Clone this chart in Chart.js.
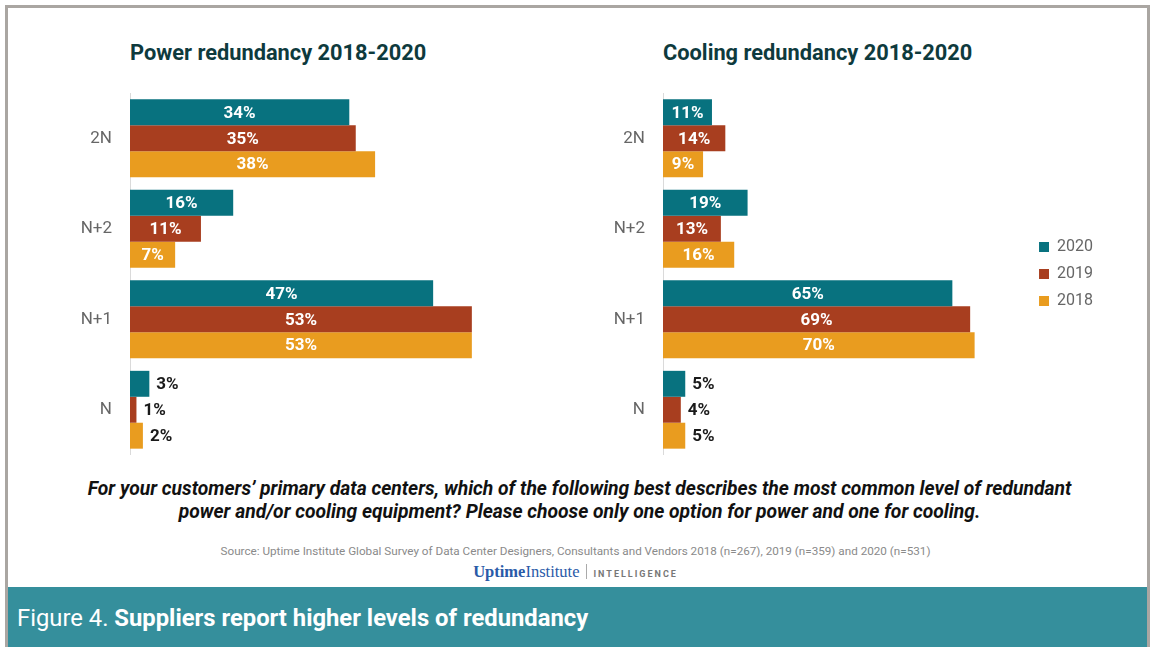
<!DOCTYPE html>
<html>
<head>
<meta charset="utf-8">
<script src="https://cdn.jsdelivr.net/npm/chart.js@4/dist/chart.umd.min.js"></script>
<style>
  body { margin: 0; width: 1151px; height: 647px; background: #fff; position: relative; overflow: hidden; font-family: Roboto, sans-serif; }
  .frame { position: absolute; left: 5px; top: 5px; width: 1145px; height: 660px; box-sizing: border-box; border: 3px solid #aaa6a2; }
  .title { position: absolute; top: 40px; font-weight: bold; font-size: 21.8px; color: #0e3a3d; white-space: nowrap; }
  .cv { position: absolute; }
  .question { position: absolute; left: 4px; width: 1151px; top: 477px; text-align: center; font-weight: bold; font-style: italic; font-size: 19.3px; line-height: 23px; color: #111; white-space: nowrap; }
  .source { position: absolute; left: 0; width: 1151px; top: 544px; text-align: center; font-size: 11.7px; color: #8a8a8a; }
  .logo { position: absolute; left: 0; width: 1151px; top: 562px; text-align: center; white-space: nowrap; }
  .logo .ui { font-family: "Liberation Serif", serif; font-size: 16.5px; color: #2a5aa8; }
  .logo .bar { display: inline-block; width: 1px; height: 15px; background: #aaa; vertical-align: -2px; margin: 0 6px 0 7px; }
  .logo .intel { font-size: 9px; font-weight: bold; letter-spacing: 2px; color: #777; }
  .footer { position: absolute; left: 8px; top: 587px; width: 1139px; height: 60px; background: #358f9c; }
  .footer span { position: absolute; left: 9px; top: 17px; font-size: 23.8px; color: #fff; white-space: nowrap; }
</style>
</head>
<body>
<div class="frame"></div>
<div class="title" style="left:130px">Power redundancy 2018-2020</div>
<div class="title" style="left:663px">Cooling redundancy 2018-2020</div>
<canvas id="power" class="cv" style="left:40px; top:93px" width="477" height="362"></canvas>
<canvas id="cooling" class="cv" style="left:573px; top:93px" width="530" height="362"></canvas>
<div class="question">For your customers’ primary data centers, which of the following best describes the most common level of redundant<br>power and/or cooling equipment? Please choose only one option for power and one for cooling.</div>
<div class="source">Source: Uptime Institute Global Survey of Data Center Designers, Consultants and Vendors 2018 (n=267), 2019 (n=359) and 2020 (n=531)</div>
<div class="logo"><span class="ui"><b>Uptime</b>Institute</span><span class="bar"></span><span class="intel">INTELLIGENCE</span></div>
<div class="footer"><span>Figure 4. <b>Suppliers report higher levels of redundancy</b></span></div>

<script>
const levels = ['2N', 'N+2', 'N+1', 'N'];
const years = ['2020', '2019', '2018'];
const yearColors = ['#08727f', '#a83e1f', '#e99c1f'];

// percent of respondents, one array per year
const power2020 = [34, 16, 47, 3];
const power2019 = [35, 11, 53, 1];
const power2018 = [38, 7, 53, 2];

const cooling2020 = [11, 19, 65, 5];
const cooling2019 = [14, 13, 69, 4];
const cooling2018 = [9, 16, 70, 5];

// white label inside the bar, or dark label just past the end when the bar is tiny
const valueLabels = {
  id: 'valueLabels',
  afterDatasetsDraw(chart) {
    const ctx = chart.ctx;
    ctx.save();
    ctx.font = 'bold 17px Roboto';
    ctx.textBaseline = 'middle';
    chart.data.datasets.forEach((ds, i) => {
      chart.getDatasetMeta(i).data.forEach((bar, j) => {
        const v = ds.data[j];
        if (v >= 6) {
          ctx.fillStyle = '#fff';
          ctx.textAlign = 'center';
          ctx.fillText(v + '%', (bar.x + bar.base) / 2, bar.y + 1);
        } else {
          ctx.fillStyle = '#1a1a1a';
          ctx.textAlign = 'left';
          ctx.fillText(v + '%', bar.x + 7, bar.y + 1);
        }
      });
    });
    ctx.restore();
  }
};

function buildChart(id, series, xMax, showLegend) {
  return new Chart(document.getElementById(id), {
    type: 'bar',
    data: {
      labels: levels,
      datasets: series.map((d, i) => ({
        label: years[i],
        data: d,
        backgroundColor: yearColors[i],
        categoryPercentage: 0.86,
        barPercentage: 1
      }))
    },
    options: {
      indexAxis: 'y',
      responsive: false,
      animation: false,
      layout: { padding: 0 },
      scales: {
        x: { display: false, min: 0, max: xMax },
        y: {
          grid: { display: false, drawTicks: false },
          border: { display: true, color: '#dadada', width: 1 },
          ticks: { font: { size: 17, family: 'Roboto' }, color: '#666', padding: 18 },
          afterFit(scale) {
            scale.width = 90;
            scale.paddingTop = 0;
            scale.paddingBottom = 0;
          }
        }
      },
      plugins: {
        legend: {
          display: showLegend,
          position: 'right',
          labels: { boxWidth: 10, boxHeight: 10, padding: 11, color: '#666', font: { size: 16, family: 'Roboto' } }
        },
        tooltip: { enabled: false }
      }
    },
    plugins: [valueLabels]
  });
}

buildChart('power', [power2020, power2019, power2018], 60, false);
buildChart('cooling', [cooling2020, cooling2019, cooling2018], 82, true);
</script>
</body>
</html>
